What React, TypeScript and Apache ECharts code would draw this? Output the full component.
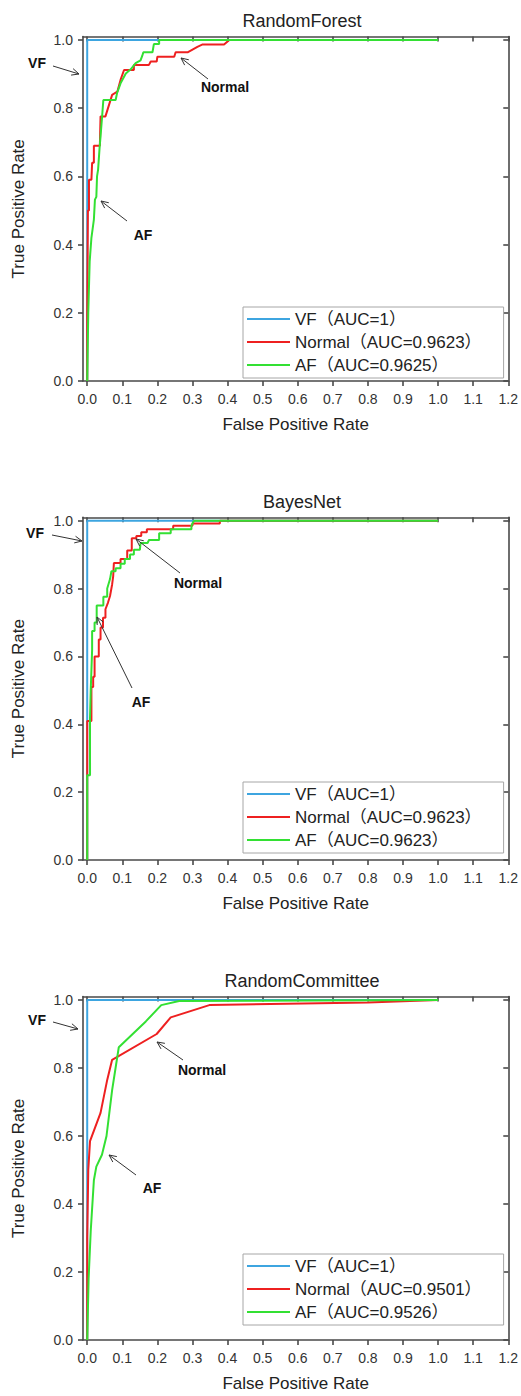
import React, { useEffect, useRef } from "react";
import * as echarts from "echarts";

const panelTitles = ["RandomForest", "BayesNet", "RandomCommittee"];
const xTickValues = [0, 0.1, 0.2, 0.3, 0.4, 0.5, 0.6, 0.7, 0.8, 0.9, 1.0, 1.1, 1.2];
const yTickValues = [0, 0.2, 0.4, 0.6, 0.8, 1.0];
const xAxisTitle = "False Positive Rate";
const yAxisTitle = "True Positive Rate";

const legendNames = [
  ["VF（AUC=1）", "Normal（AUC=0.9623）", "AF（AUC=0.9625）"],
  ["VF（AUC=1）", "Normal（AUC=0.9623）", "AF（AUC=0.9623）"],
  ["VF（AUC=1）", "Normal（AUC=0.9501）", "AF（AUC=0.9526）"],
];

// RandomForest
const rfVF = [[0, 0], [0, 1], [1, 1]];
const rfNormal = [
  [0, 0], [0, 0.2], [0.002, 0.5], [0.005, 0.5], [0.005, 0.59], [0.012, 0.59], [0.014, 0.64], [0.019, 0.64],
  [0.019, 0.69], [0.036, 0.69], [0.038, 0.776], [0.052, 0.776], [0.071, 0.839], [0.086, 0.849],
  [0.095, 0.883], [0.105, 0.912], [0.133, 0.912], [0.133, 0.927], [0.176, 0.927], [0.181, 0.937],
  [0.198, 0.937], [0.2, 0.951], [0.248, 0.951], [0.252, 0.964], [0.286, 0.964], [0.314, 0.98],
  [0.329, 0.987], [0.39, 0.987], [0.405, 1], [1, 1],
];
const rfAF = [
  [0, 0], [0.003, 0.2], [0.007, 0.35], [0.012, 0.42], [0.019, 0.473], [0.022, 0.532], [0.026, 0.54],
  [0.028, 0.6], [0.031, 0.62], [0.035, 0.68], [0.038, 0.717], [0.042, 0.77], [0.046, 0.824],
  [0.081, 0.824], [0.085, 0.844], [0.095, 0.873], [0.11, 0.902], [0.124, 0.914], [0.138, 0.932],
  [0.152, 0.94], [0.157, 0.954], [0.16, 0.964], [0.186, 0.964], [0.19, 0.988], [0.205, 0.988],
  [0.205, 1], [1, 1],
];

// BayesNet
const bnVF = [[0, 0], [0, 1], [1, 1]];
const bnNormal = [
  [0, 0], [0, 0.41], [0.012, 0.41], [0.012, 0.51], [0.017, 0.51], [0.017, 0.54], [0.021, 0.54],
  [0.021, 0.6], [0.033, 0.6], [0.033, 0.65], [0.038, 0.65], [0.038, 0.685], [0.045, 0.685],
  [0.045, 0.714], [0.052, 0.714], [0.052, 0.739], [0.059, 0.758], [0.065, 0.778], [0.071, 0.812],
  [0.074, 0.836], [0.076, 0.875], [0.095, 0.875], [0.095, 0.887], [0.114, 0.887], [0.114, 0.912],
  [0.127, 0.912], [0.127, 0.948], [0.14, 0.948], [0.14, 0.955], [0.154, 0.955], [0.154, 0.966],
  [0.17, 0.966], [0.17, 0.975], [0.245, 0.975], [0.245, 0.985], [0.3, 0.985], [0.3, 0.992],
  [0.378, 0.992], [0.378, 1], [1, 1],
];
const bnAF = [
  [0, 0], [0, 0.25], [0.008, 0.25], [0.008, 0.42], [0.01, 0.5], [0.012, 0.56], [0.014, 0.62],
  [0.014, 0.675], [0.021, 0.675], [0.021, 0.7], [0.027, 0.7], [0.027, 0.75], [0.046, 0.75],
  [0.046, 0.776], [0.057, 0.776], [0.057, 0.8], [0.065, 0.828], [0.069, 0.851], [0.081, 0.851],
  [0.081, 0.86], [0.095, 0.86], [0.095, 0.873], [0.107, 0.873], [0.107, 0.887], [0.122, 0.887],
  [0.122, 0.9], [0.133, 0.9], [0.133, 0.914], [0.15, 0.914], [0.152, 0.934], [0.172, 0.934],
  [0.176, 0.943], [0.205, 0.943], [0.205, 0.963], [0.238, 0.963], [0.238, 0.975], [0.297, 0.975],
  [0.297, 0.985], [0.3, 0.992], [0.305, 1], [1, 1],
];

// RandomCommittee
const rcVF = [[0, 0], [0, 1], [1, 1]];
const rcNormal = [
  [0, 0], [0, 0.3], [0.003, 0.5], [0.008, 0.585], [0.038, 0.668], [0.057, 0.765], [0.071, 0.824],
  [0.198, 0.9], [0.238, 0.949], [0.348, 0.985], [0.8, 0.993], [1, 1],
];
const rcAF = [
  [0, 0], [0.004, 0.18], [0.01, 0.32], [0.019, 0.47], [0.026, 0.51], [0.042, 0.545], [0.055, 0.6],
  [0.071, 0.735], [0.09, 0.861], [0.167, 0.937], [0.211, 0.985], [0.262, 0.997], [1, 1],
];

const panelData = [
  [rfVF, rfNormal, rfAF],
  [bnVF, bnNormal, bnAF],
  [rcVF, rcNormal, rcAF],
];

const lineColors = ["#3da5e0", "#ee2020", "#33e033"];

// annotations: [label, textX, textY, fromX, fromY, tipX, tipY]
const annotations: [string, number, number, number, number, number, number][] = [
  ["VF", 37, 63, 53, 66, 79, 74],
  ["Normal", 225, 87, 208, 79, 181, 58],
  ["AF", 143, 235, 127, 221, 101, 201],
  ["VF", 35, 533, 52, 535, 82, 541],
  ["Normal", 198, 583, 180, 573, 136, 539],
  ["AF", 141, 702, 132, 688, 97, 617],
  ["VF", 37, 1020, 53, 1022, 78, 1029],
  ["Normal", 202, 1070, 183, 1060, 157, 1042],
  ["AF", 152, 1188, 136, 1175, 109, 1155],
];

const FONT = '"Liberation Sans", Arial, "Noto Sans CJK SC", sans-serif';
const AXIS_COLOR = "#4a4a4a";

const GRID_LEFT = 83;
const GRID_W = 428;
const gridTops = [36.6, 517.3, 996.6];
const gridHeights = [344.4, 342.7, 343.4];
const titleTops = [7, 488, 967];
const legendTops = [307, 782, 1254];

function arrowElements(fx: number, fy: number, tx: number, ty: number) {
  const dx = tx - fx;
  const dy = ty - fy;
  const len = Math.sqrt(dx * dx + dy * dy);
  const ux = dx / len;
  const uy = dy / len;
  const L = 8;
  const a = (25 * Math.PI) / 180;
  const rot = (ang: number) => [
    tx - L * (ux * Math.cos(ang) - uy * Math.sin(ang)),
    ty - L * (ux * Math.sin(ang) + uy * Math.cos(ang)),
  ];
  return [
    {
      type: "line",
      shape: { x1: fx, y1: fy, x2: tx, y2: ty },
      style: { stroke: "#333", lineWidth: 1 },
      z: 100,
    },
    {
      type: "polyline",
      shape: { points: [rot(a), [tx, ty], rot(-a)] },
      style: { stroke: "#333", lineWidth: 1, fill: null },
      z: 100,
    },
  ];
}

export default function App() {
  const ref = useRef<HTMLDivElement>(null);

  useEffect(() => {
    if (!ref.current) return;
    const chart = echarts.init(ref.current, null, { renderer: "svg" });

    const grids: any[] = [];
    const xAxes: any[] = [];
    const yAxes: any[] = [];
    const series: any[] = [];
    const legends: any[] = [];
    const titles: any[] = [];
    const graphics: any[] = [];

    const axisLineStyle = { color: AXIS_COLOR, width: 1.6 };

    for (let i = 0; i < 3; i++) {
      grids.push({ left: GRID_LEFT, top: gridTops[i], width: GRID_W, height: gridHeights[i] });
      titles.push({
        text: panelTitles[i],
        left: GRID_LEFT + GRID_W / 2,
        top: titleTops[i],
        textAlign: "center",
        textStyle: { fontSize: 18, fontWeight: "normal", color: "#222", fontFamily: FONT },
      });
      // bottom x axis
      xAxes.push({
        type: "value",
        gridIndex: i,
        min: -0.012,
        max: 1.2,
        position: "bottom",
        axisLine: { show: true, onZero: false, lineStyle: axisLineStyle },
        axisTick: { show: true, inside: false, length: 5, customValues: xTickValues, lineStyle: axisLineStyle },
        axisLabel: {
          customValues: xTickValues,
          formatter: (v: number) => v.toFixed(1),
          fontSize: 14,
          color: "#333",
          margin: 11,
          fontFamily: FONT,
        },
        splitLine: { show: false },
        name: xAxisTitle,
        nameLocation: "middle",
        nameGap: 35,
        nameTextStyle: { fontSize: 17, color: "#222", fontFamily: FONT },
      });
      // top x axis (frame)
      xAxes.push({
        type: "value",
        gridIndex: i,
        min: -0.012,
        max: 1.2,
        position: "top",
        axisLine: { show: true, onZero: false, lineStyle: axisLineStyle },
        axisTick: { show: true, inside: true, length: 5, customValues: xTickValues, lineStyle: axisLineStyle },
        axisLabel: { show: false },
        splitLine: { show: false },
      });
      // left y axis
      yAxes.push({
        type: "value",
        gridIndex: i,
        min: 0,
        max: 1.01,
        position: "left",
        axisLine: { show: true, onZero: false, lineStyle: axisLineStyle },
        axisTick: { show: true, inside: false, length: 5, customValues: yTickValues, lineStyle: axisLineStyle },
        axisLabel: {
          customValues: yTickValues,
          formatter: (v: number) => v.toFixed(1),
          fontSize: 14,
          color: "#333",
          margin: 10,
          fontFamily: FONT,
        },
        splitLine: { show: false },
        name: yAxisTitle,
        nameLocation: "middle",
        nameGap: 56,
        nameTextStyle: { fontSize: 17, color: "#222", fontFamily: FONT },
      });
      // right y axis (frame)
      yAxes.push({
        type: "value",
        gridIndex: i,
        min: 0,
        max: 1.01,
        position: "right",
        axisLine: { show: true, onZero: false, lineStyle: axisLineStyle },
        axisTick: { show: true, inside: true, length: 5, customValues: yTickValues, lineStyle: axisLineStyle },
        axisLabel: { show: false },
        splitLine: { show: false },
      });

      for (let s = 0; s < 3; s++) {
        series.push({
          type: "line",
          name: legendNames[i][s],
          xAxisIndex: i * 2,
          yAxisIndex: i * 2,
          data: panelData[i][s],
          showSymbol: false,
          symbol: "none",
          color: lineColors[s],
          lineStyle: { color: lineColors[s], width: 2 },
          z: 2 + s,
        });
      }

      legends.push({
        orient: "vertical",
        left: 243,
        top: legendTops[i],
        data: legendNames[i],
        icon: "rect",
        itemWidth: 43,
        itemHeight: 2,
        itemGap: 5,
        selectedMode: false,
        padding: [3, 22, 4, 4],
        borderColor: "#a6a6a6",
        borderWidth: 1,
        backgroundColor: "#ffffff",
        textStyle: { fontSize: 17, lineHeight: 18, color: "#222", fontFamily: FONT },
      });
    }

    for (const [label, tx, ty, fx, fy, ax, ay] of annotations) {
      graphics.push({
        type: "text",
        x: tx,
        y: ty,
        z: 100,
        style: {
          text: label,
          fontSize: 14,
          fontWeight: "bold",
          fontFamily: FONT,
          fill: "#111",
          align: "center",
          verticalAlign: "middle",
        },
      });
      graphics.push(...arrowElements(fx, fy, ax, ay));
    }

    chart.setOption({
      animation: false,
      backgroundColor: "#ffffff",
      title: titles,
      grid: grids,
      xAxis: xAxes,
      yAxis: yAxes,
      legend: legends,
      series,
      graphic: graphics,
    });

    return () => chart.dispose();
  }, []);

  return (
    <div
      ref={ref}
      style={{ position: "absolute", left: 0, top: 0, width: 521, height: 1396 }}
    />
  );
}
